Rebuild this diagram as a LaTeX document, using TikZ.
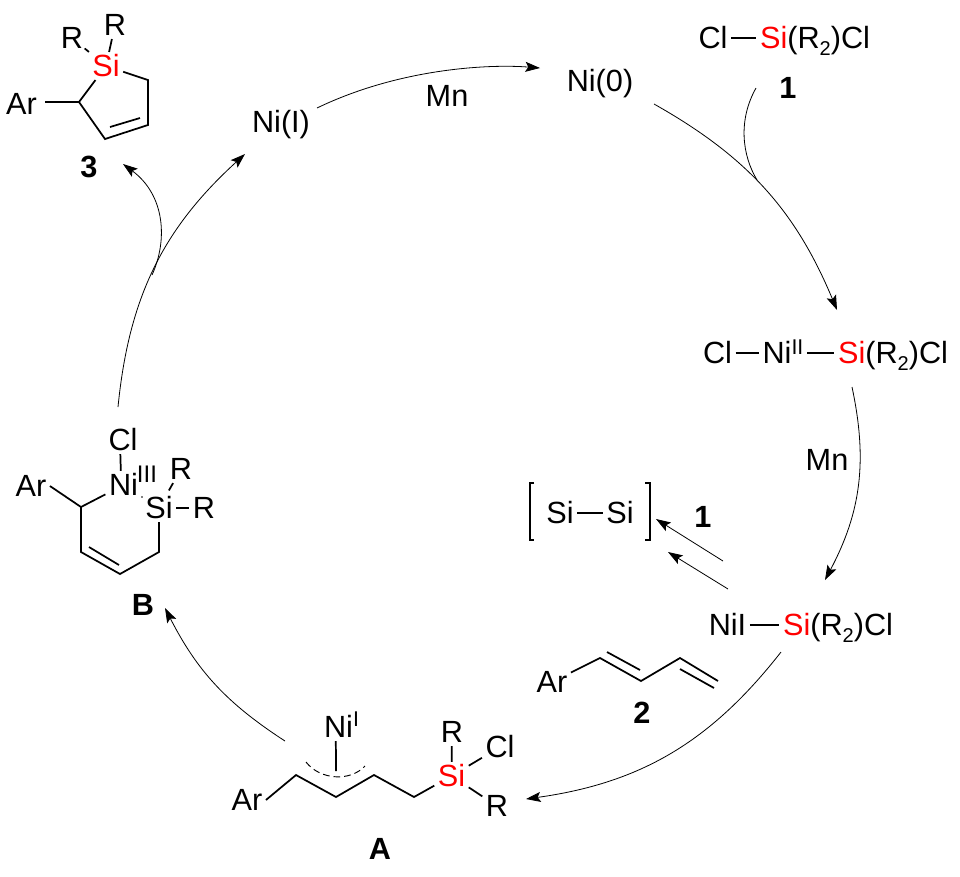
\documentclass[tikz,border=0pt]{standalone}
\usepackage{fontspec}
\setmainfont{Liberation Sans}
\usetikzlibrary{arrows.meta}
\newcommand{\chemsub}[1]{\raisebox{-5pt}{\fontsize{15}{15}\selectfont #1}}
\newcommand{\chemsi}{\textcolor{red}{Si}}

\begin{document}
\begin{tikzpicture}[x=0.75pt, y=-0.75pt, >={Stealth[length=11pt,width=7.5pt,inset=2.2pt]},
    atom/.style={font=\fontsize{23}{26}\selectfont, text height=15.7pt, text depth=0pt,
      inner sep=2.5pt},
    oxi/.style={font=\fontsize{16}{16}\selectfont, text height=11pt, text depth=0pt,
      inner sep=0pt},
    lbl/.style={atom, font=\fontsize{23}{26}\selectfont\bfseries},
    bond/.style={line width=1.3pt, line join=miter},
    cycle/.style={->, line width=0.6pt},
    thinline/.style={line width=1pt}]
  \useasboundingbox (0,0) rectangle (960,876);

  % Silacycle 3
  \node[atom] (si3) at (106,66) {\chemsi};
  \node[atom, inner sep=1pt] (ra3) at (72,38) {R};
  \node[atom] (rb3) at (115,25) {R};
  \node[atom] (ar3) at (21.5,104) {Ar};
  \node[lbl] (lab3) at (89,167) {3};
  \coordinate (c3a) at (79,102);
  \coordinate (c3b) at (105,139);
  \coordinate (c3c) at (148,125);
  \coordinate (c3d) at (148,80);
  \coordinate (c3e) at (110,127);
  \coordinate (c3f) at (140,118);
  \draw[bond] (si3) -- (ra3);
  \draw[bond] (si3) -- (rb3);
  \draw[bond] (si3) -- (c3a) -- (c3b) -- (c3c) -- (c3d) -- (si3);
  \draw[bond, shorten <=3.5pt] (ar3.east |- c3a) -- (c3a);
  \draw[bond] (c3e) -- (c3f);

  % Top of the cycle
  \node[atom] (nia) at (281,122) {Ni(I)};
  \node[atom] (nib) at (600,81) {Ni(0)};
  \node[atom] (mna) at (447,96) {Mn};
  \node[atom] (cla) at (713,38) {Cl};
  \node[atom] (sia) at (815,38) {\chemsi(R\chemsub{2})Cl};
  \node[lbl] (laba) at (788,88) {1};
  \draw[bond] (cla) -- (sia);

  % Right side
  \node[atom] (clb) at (717.5,353) {Cl};
  \node[atom] (nic) at (783,353) {Ni\raisebox{6.5pt}{\fontsize{16}{16}\selectfont II}};
  \node[atom] (sib) at (893,353) {\chemsi(R\chemsub{2})Cl};
  \node[atom] (mnb) at (827,460) {Mn};
  \draw[bond] (clb) -- (nic);
  \draw[bond] (nic) -- (sib);

  \node[atom] (nid) at (727.5,625) {NiI};
  \node[atom] (sic) at (838,625) {\chemsi(R\chemsub{2})Cl};
  \draw[bond] (nid) -- (sic);

  % Homocoupling
  \node[atom] (sid) at (560,513) {Si};
  \node[atom] (sie) at (620,513) {Si};
  \node[lbl] (labb) at (703,517) {1};
  \coordinate (bla) at (534,483);
  \coordinate (blb) at (530,483);
  \coordinate (blc) at (530,540);
  \coordinate (bld) at (534,540);
  \coordinate (bra) at (645,483);
  \coordinate (brb) at (650,483);
  \coordinate (brc) at (650,540);
  \coordinate (brd) at (645,540);
  \draw[bond] (sid) -- (sie);
  \draw[thinline] (bla) -- (blb) -- (blc) -- (bld);
  \draw[thinline] (bra) -- (brb) -- (brc) -- (brd);
  \coordinate (hca) at (723,561);
  \coordinate (hcb) at (656,519);
  \coordinate (hcc) at (728,589);
  \coordinate (hcd) at (668,552);
  \draw[cycle] (hca) -- (hcb);
  \draw[cycle] (hcc) -- (hcd);

  % Diene 2
  \node[atom] (ar2) at (552,682) {Ar};
  \node[lbl] (lab2) at (642,713) {2};
  \coordinate (c2a) at (600,658);
  \coordinate (c2b) at (641,681);
  \coordinate (c2c) at (680,658);
  \coordinate (c2d) at (718,681);
  \coordinate (c2e) at (607,652);
  \coordinate (c2f) at (640,670);
  \coordinate (c2g) at (680,669);
  \coordinate (c2h) at (714,688);
  \draw[bond] (ar2) -- (c2a) -- (c2b) -- (c2c) -- (c2d);
  \draw[bond] (c2e) -- (c2f);
  \draw[bond] (c2g) -- (c2h);

  % Intermediate A
  \node[atom] (ara) at (247,800) {Ar};
  \node[atom] (nif) at (338.5,727) {Ni};
  \node[oxi] (oxa) at (356,719) {I};
  \node[atom] (sif) at (451.5,776) {\chemsi};
  \node[atom] (raa) at (452,732) {R};
  \node[atom] (rab) at (497,806) {R};
  \node[atom] (clc) at (500,747) {Cl};
  \node[lbl] (laba2) at (380,849) {A};
  \coordinate (caa) at (296,775);
  \coordinate (cab) at (336,797);
  \coordinate (cac) at (374,775);
  \coordinate (cad) at (414,797);
  \coordinate (cae) at (336,771);
  \coordinate (caf) at (306,762);
  \coordinate (cag) at (365,766);
  \draw[bond] (ara.east) -- (caa) -- (cab) -- (cac) -- (cad) -- (sif);
  \draw[bond] (sif) -- (raa);
  \draw[bond] (sif) -- (rab);
  \draw[bond] (sif) -- (clc);
  \draw[bond] ([xshift=-2pt]nif.south) -- (cae);
  \draw[line width=0.7pt, dash pattern=on 5pt off 3pt] (caf) .. controls (320,780) and (350,782) .. (cag);

  % Intermediate B
  \node[atom] (arb) at (31,486) {Ar};
  \node[atom] (nig) at (123.5,485) {Ni};
  \node[oxi, font=\fontsize{18}{18}\selectfont] (oxb) at (147,475) {III};
  \node[atom] (clf) at (123,440) {Cl};
  \node[atom] (sig) at (159,508) {Si};
  \node[atom] (rba) at (181,469) {R};
  \node[atom] (rbb) at (204,508) {R};
  \node[lbl] (labb2) at (143,605) {B};
  \coordinate (cba) at (81,507);
  \coordinate (cbb) at (81,552);
  \coordinate (cbc) at (120,574);
  \coordinate (cbd) at (159,552);
  \coordinate (cbe) at (89,547);
  \coordinate (cbf) at (119,565);
  \draw[bond] (arb.east) -- (cba) -- (nig);
  \draw[bond] (cba) -- (cbb) -- (cbc) -- (cbd) -- (sig);
  \draw[bond] (cbe) -- (cbf);
  \draw[bond] ([xshift=-2pt]clf.south) -- ([xshift=-2pt]nig.north);
  \draw[bond, shorten <=3pt] (sig) -- (rba);
  \draw[bond] (sig) -- (rbb);
  \fill (142,497) circle (0.9);

  % Catalytic cycle
  \coordinate (cya) at (317,108);
  \coordinate (cyb) at (540,68);
  \coordinate (cyc) at (654,104);
  \coordinate (cyd) at (837,310);
  \coordinate (cye) at (852,387);
  \coordinate (cyf) at (825,580);
  \coordinate (cyg) at (781,652);
  \coordinate (cyh) at (526,799);
  \coordinate (cyi) at (285,741);
  \coordinate (cyj) at (165,608);
  \coordinate (cyk) at (118,407);
  \coordinate (cyl) at (245,154);
  \draw[cycle] (cya) .. controls (400,68) and (490,64) .. (cyb);
  \draw[cycle] (cyc) to[bend left=19] (cyd);
  \draw[cycle] (cye) to[bend left=20] (cyf);
  \draw[cycle] (cyg) to[bend left=22] (cyh);
  \draw[cycle] (cyi) to[bend left=15] (cyj);
  \draw[cycle] (cyk) to[bend left=21] (cyl);

  % Side branches
  \coordinate (bra1) at (756,88);
  \coordinate (bra2) at (757,180);
  \coordinate (bra3) at (152,275);
  \coordinate (bra4) at (123,164);
  \draw[line width=0.6pt] (bra1) .. controls (738,120) and (742,155) .. (bra2);
  \draw[cycle] (bra3) .. controls (168,240) and (165,195) .. (bra4);
\end{tikzpicture}
\end{document}
